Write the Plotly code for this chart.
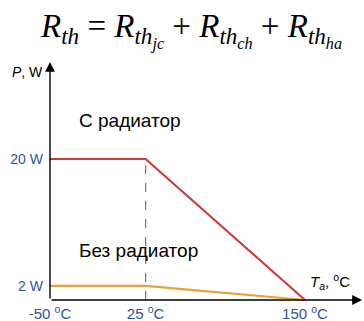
import plotly.graph_objects as go

# Data
temps = [-50, 25, 150]              # ambient temperature, °C
p_with_heatsink = [20, 20, 0]       # W
p_without_heatsink = [2, 2, 0]      # W
x_tick_vals = [-50, 25, 150]
x_tick_text = ["-50 <sup>o</sup>C", "25 <sup>o</sup>C", "150 <sup>o</sup>C"]
y_tick_vals = [2, 20]
y_tick_text = ["2 W", "20 W"]
label_with = "С радиатор"
label_without = "Без радиатор"

W, H = 364, 321
# pixel layout of the axes area
left_px, right_px, top_px, bottom_px = 50, 362, 60, 303
x0_px, x1_px = 50, 305       # px of -50 and 150
y0_px, y1_px = 300, 159      # px of 0 W and 20 W
xs = (x1_px - x0_px) / (temps[2] - temps[0])
ys = (y0_px - y1_px) / 20.0
xr = [temps[0] - (x0_px - left_px) / xs, temps[0] + (right_px - x0_px) / xs]
yr = [-(bottom_px - y0_px) / ys, (y0_px - top_px) / ys]


def px(xp, yp):
    return (xp - left_px) / (right_px - left_px), (bottom_px - yp) / (bottom_px - top_px)


red = "#D2383A"
orange = "#E8A136"
blue = "#2B5797"

fig = go.Figure()
fig.add_trace(go.Scatter(x=temps, y=p_with_heatsink, mode="lines",
                         line=dict(color=red, width=2.2), hoverinfo="skip"))
fig.add_trace(go.Scatter(x=temps, y=p_without_heatsink, mode="lines",
                         line=dict(color=orange, width=2.2), hoverinfo="skip"))

fig.add_shape(type="line", x0=temps[1], x1=temps[1], y0=0, y1=p_with_heatsink[1],
              line=dict(color="#5E7894", width=1.2, dash="dash"), layer="below")

# axes arrows (paper coordinates, tails as pixel offsets)
hx, hy = px(362, y0_px)
fig.add_annotation(x=hx, y=hy, xref="paper", yref="paper", ax=-(362 - x0_px), ay=0,
                   text="", showarrow=True, arrowhead=2, arrowsize=1.4, arrowwidth=1.4,
                   arrowcolor="black", standoff=0)
hx, hy = px(x0_px, 62)
fig.add_annotation(x=hx, y=hy, xref="paper", yref="paper", ax=0, ay=(y0_px - 62),
                   text="", showarrow=True, arrowhead=2, arrowsize=1.4, arrowwidth=1.4,
                   arrowcolor="black", standoff=0)

# formula title
formula = ("<i>R</i><sub><i>th</i></sub> = <i>R</i><sub><i>th<sub>jc</sub></i></sub>"
           " + <i>R</i><sub><i>th<sub>ch</sub></i></sub> + <i>R</i><sub><i>th<sub>ha</sub></i></sub>")


def text_at(xp, yp, text, size, family="Liberation Sans", xanchor="center"):
    x, y = px(xp, yp)
    fig.add_annotation(x=x, y=y, xref="paper", yref="paper", xanchor=xanchor, yanchor="middle",
                       text=text, showarrow=False, font=dict(family=family, size=size, color="black"))


text_at(191, 31, formula, 33, family="Liberation Serif")
text_at(45, 72, "<i>P</i>, W", 14, xanchor="right")
text_at(352, 281, "<i>T<sub>a</sub></i>, <sup>o</sup>C", 15, xanchor="right")
text_at(77, 120, label_with, 19, xanchor="left")
text_at(77, 250, label_without, 19, xanchor="left")

fig.update_layout(
    width=W, height=H,
    margin=dict(l=left_px, r=W - right_px, t=top_px, b=H - bottom_px, pad=0),
    paper_bgcolor="white", plot_bgcolor="white",
    showlegend=False,
    xaxis=dict(range=xr, tickvals=x_tick_vals, ticktext=x_tick_text, showgrid=False,
               zeroline=False, showline=False, ticks="", ticklabelstandoff=0,
               automargin=False,
               tickfont=dict(family="Liberation Sans", size=15, color=blue)),
    yaxis=dict(range=yr, tickvals=y_tick_vals, ticktext=y_tick_text, showgrid=False,
               zeroline=False, showline=False, ticks="", ticklabelstandoff=6,
               automargin=False,
               tickfont=dict(family="Liberation Sans", size=14, color=blue)),
)

fig.write_html("out.html")
